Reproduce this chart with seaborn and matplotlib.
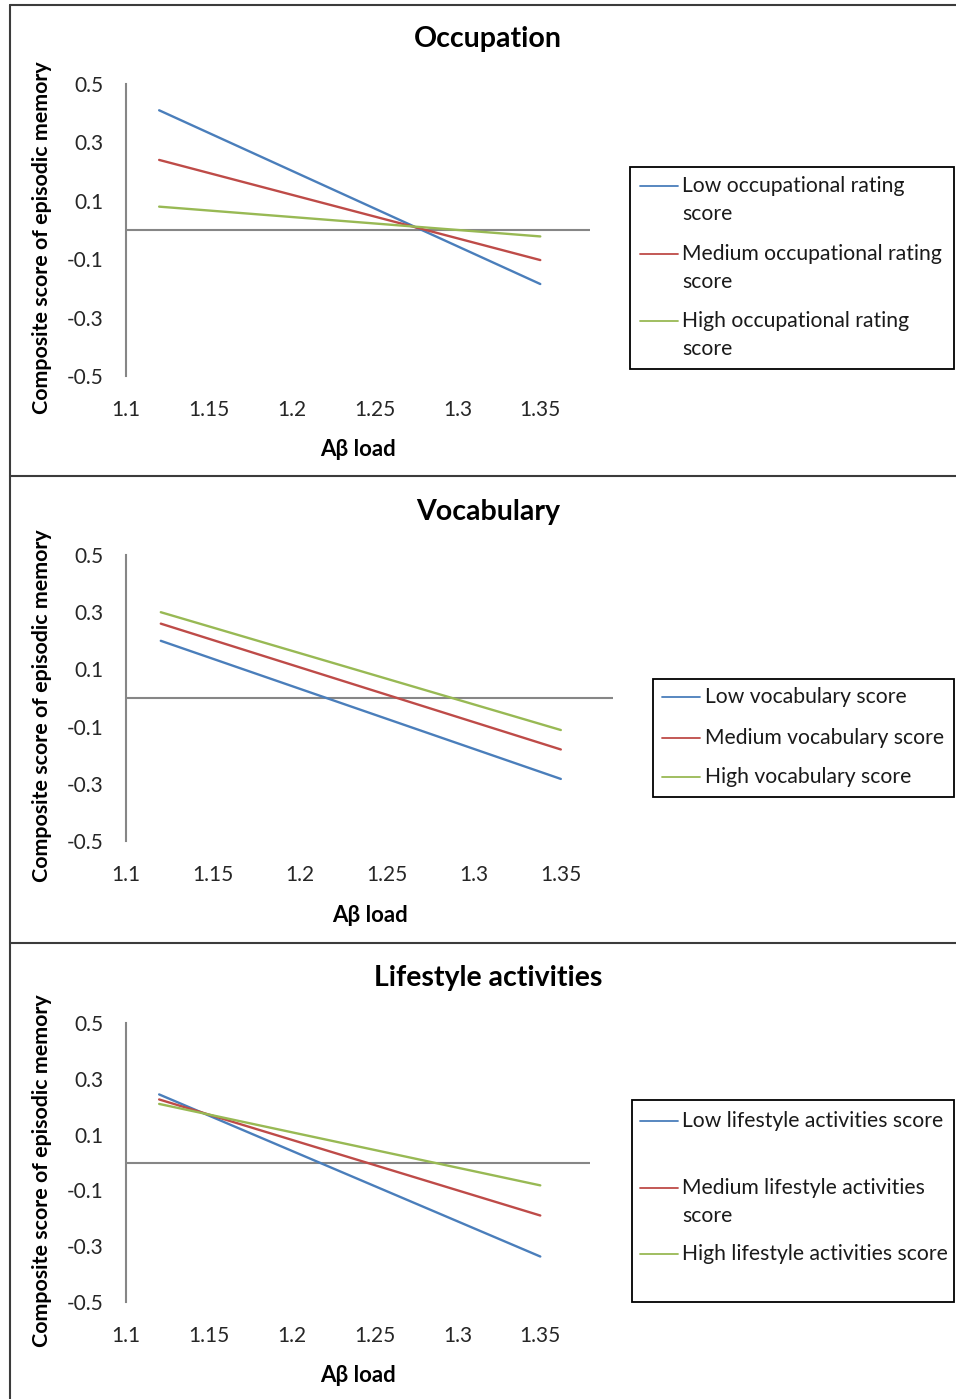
import numpy as np
import pandas as pd
import seaborn as sns
import matplotlib.pyplot as plt
from matplotlib.lines import Line2D
from matplotlib.patches import Rectangle

# Abeta load at the two ends of each fitted line
load = [1.12, 1.35]
groups = ["Low", "Medium", "High"]
colors = ["#4A7EBB", "#BE4B48", "#98B954"]

# composite score of episodic memory at load[0] and load[1]
occ_low = [0.41, -0.185]
occ_med = [0.24, -0.103]
occ_high = [0.08, -0.022]

voc_low = [0.20, -0.283]
voc_med = [0.26, -0.18]
voc_high = [0.30, -0.112]

life_low = [0.244, -0.337]
life_med = [0.226, -0.19]
life_high = [0.21, -0.082]

titles = ["Occupation", "Vocabulary", "Lifestyle activities"]
occ_labels = ["Low occupational rating\nscore",
              "Medium occupational rating\nscore",
              "High occupational rating\nscore"]
voc_labels = ["Low vocabulary score", "Medium vocabulary score", "High vocabulary score"]
life_labels = ["Low lifestyle activities score",
               "Medium lifestyle activities\nscore",
               "High lifestyle activities score"]

x_ticks = [1.1, 1.15, 1.2, 1.25, 1.3, 1.35]
x_ticklabels = ["1.1", "1.15", "1.2", "1.25", "1.3", "1.35"]
y_ticks = [0.5, 0.3, 0.1, -0.1, -0.3, -0.5]
y_ticklabels = ["0.5", "0.3", "0.1", "-0.1", "-0.3", "-0.5"]

sns.set_theme(style="white")
plt.rcParams["font.family"] = ["Lato", "DejaVu Sans"]

W, H = 956, 1399
fig = plt.figure(figsize=(W / 100, H / 100), dpi=100)


def fx(px):
    return px / W


def fy(py):
    return 1 - py / H


# layout of each panel in pixels
layout = [
    dict(ax=(126, 84, 590, 376), title_y=39, box=(630, 167, 954, 369),
         rows=[186, 254, 321], handle=(640, 678), text_x=682),
    dict(ax=(126, 555, 613, 841), title_y=512, box=(653, 679, 954, 797),
         rows=[697, 738, 777], handle=(662, 700), text_x=705),
    dict(ax=(126, 1023, 590, 1302), title_y=978, box=(632, 1100, 954, 1302),
         rows=[1121, 1188, 1254], handle=(640, 678), text_x=682),
]
series = [(occ_low, occ_med, occ_high), (voc_low, voc_med, voc_high), (life_low, life_med, life_high)]
legend_labels = [occ_labels, voc_labels, life_labels]

# panel frames
border = "#3c3c3c"
fig.add_artist(Line2D([fx(10), fx(10)], [fy(5), fy(H + 5)], color=border, lw=1.5, transform=fig.transFigure))
for yb in [5, 476, 943]:
    fig.add_artist(Line2D([fx(10), fx(W + 5)], [fy(yb), fy(yb)], color=border, lw=1.5, transform=fig.transFigure))

for lay, (low, med, high), labels, title in zip(layout, series, legend_labels, titles):
    l, t, r, b = lay["ax"]
    ax = fig.add_axes([fx(l), fy(b), (r - l) / W, (b - t) / H])

    df = pd.DataFrame({
        "load": load * 3,
        "score": low + med + high,
        "group": np.repeat(groups, len(load)),
    })
    sns.lineplot(data=df, x="load", y="score", hue="group", hue_order=groups,
                 palette=dict(zip(groups, colors)), linewidth=1.7,
                 errorbar=None, legend=False, ax=ax)
    ax.axhline(0, color="#868686", lw=1.5, zorder=0)

    ax.set_xlim(1.1, 1.38)
    ax.set_ylim(-0.5, 0.5)
    ax.set_xticks(x_ticks)
    ax.set_xticklabels(x_ticklabels)
    ax.set_yticks(y_ticks)
    ax.set_yticklabels(y_ticklabels)
    ax.tick_params(axis="y", length=0, pad=16.5, labelsize=15, labelcolor="#262626")
    ax.tick_params(axis="x", length=0, pad=17, labelsize=15, labelcolor="#262626")
    for side in ["top", "right", "bottom"]:
        ax.spines[side].set_visible(False)
    ax.spines["left"].set_color("#868686")
    ax.spines["left"].set_linewidth(1.5)
    ax.patch.set_alpha(0)

    ax.set_xlabel("Aβ load", fontsize=16, fontweight="bold", color="black")
    ax.xaxis.set_label_coords(0.5, -74 / (b - t))
    ax.xaxis.label.set_va("center")
    ax.set_ylabel("Composite score of episodic memory", fontsize=15.4,
                  fontweight="bold", color="black")
    ax.yaxis.set_label_coords((42 - l) / (r - l), 0.5 - 8 / (b - t))
    ax.yaxis.label.set_va("center")

    fig.text(fx(488), fy(lay["title_y"]), title, ha="center", va="center",
             fontsize=20.5, fontweight="bold", color="black")

    # legend box drawn like the spreadsheet legend (handle on first text line)
    x0, y0, x1, y1 = lay["box"]
    fig.add_artist(Rectangle((fx(x0), fy(y1)), (x1 - x0) / W, (y1 - y0) / H,
                             transform=fig.transFigure, fill=False,
                             edgecolor="black", lw=1.3))
    h0, h1 = lay["handle"]
    for yrow, label, c in zip(lay["rows"], labels, colors):
        fig.add_artist(Line2D([fx(h0), fx(h1)], [fy(yrow), fy(yrow)], color=c,
                              lw=1.3, transform=fig.transFigure))
        for i, part in enumerate(label.split("\n")):
            fig.text(fx(lay["text_x"]), fy(yrow + i * 28), part, ha="left",
                     va="center", fontsize=15.2, color="#1a1a1a")

fig.savefig("out.png", dpi=100)
